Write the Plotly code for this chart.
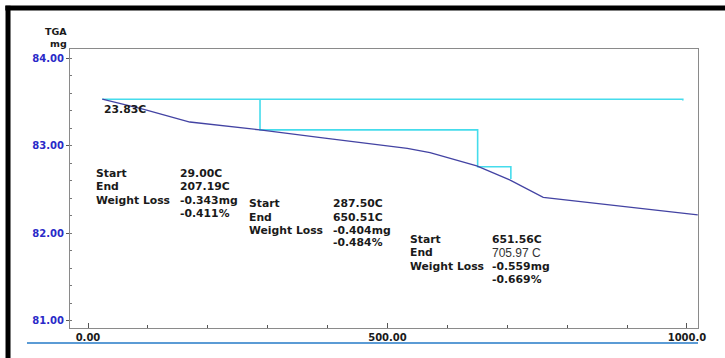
import plotly.graph_objects as go

# TGA curve (temperature in C, weight in mg)
temp = [23.83, 91.8, 170, 287, 392, 487, 533, 571, 649, 704, 760, 1018]
weight = [83.53, 83.418, 83.27, 83.18, 83.09, 83.01, 82.97, 82.92, 82.77, 82.61, 82.41, 82.21]

# baseline (cyan) and step construction lines
base_t = [23.83, 993, 993]
base_w = [83.53, 83.53, 83.515]
step_t = [287.19, 287.19, 650.51, 650.51, 705.97, 705.97]
step_w = [83.53, 83.18, 83.18, 82.76, 82.76, 82.62]

x_tickvals = [0, 500, 1000]
x_ticktext = ["0.00", "500.00", "1000.0"]
y_tickvals = [81, 82, 83, 84]
y_ticktext = ["81.00", "82.00", "83.00", "84.00"]

# analysis blocks
block_labels = ["Start", "End", "Weight Loss", ""]
block1_vals = ["29.00C", "207.19C", "-0.343mg", "-0.411%"]
block2_vals = ["287.50C", "650.51C", "-0.404mg", "-0.484%"]
block3_vals = ["651.56C", "705.97 C", "-0.559mg", "-0.669%"]
block_lx = [10, 265.4, 534.2]
block_vx = [150, 405.7, 671]
block_y = [[82.677, 82.529, 82.369, 82.221],
           [82.335, 82.186, 82.027, 81.89],
           [81.935, 81.776, 81.627, 81.468]]

FONT = "DejaVu Sans"
TXT = "#1a1a1a"

fig = go.Figure()
fig.add_trace(go.Scatter(x=base_t, y=base_w, mode="lines",
                         line=dict(color="#45dcec", width=1.6), hoverinfo="skip"))
fig.add_trace(go.Scatter(x=step_t, y=step_w, mode="lines",
                         line=dict(color="#45dcec", width=1.6), hoverinfo="skip"))
fig.add_trace(go.Scatter(x=temp, y=weight, mode="lines",
                         line=dict(color="#4343a3", width=1.3), hoverinfo="skip"))

annotations = []
for bi, vals in enumerate([block1_vals, block2_vals, block3_vals]):
    for ri in range(4):
        if block_labels[ri]:
            annotations.append(dict(x=block_lx[bi], y=block_y[bi][ri], xref="x", yref="y",
                                    text="<b>%s</b>" % block_labels[ri], showarrow=False,
                                    xanchor="left", yanchor="middle",
                                    font=dict(family=FONT, size=10.8, color=TXT)))
        v = vals[ri]
        if v == "705.97 C":
            txt = v
            fnt = dict(family="Liberation Sans", size=12, color="#333")
        else:
            txt = "<b>%s</b>" % v
            fnt = dict(family=FONT, size=10.8, color=TXT)
        annotations.append(dict(x=block_vx[bi], y=block_y[bi][ri], xref="x", yref="y",
                                text=txt, showarrow=False, xanchor="left", yanchor="middle",
                                font=fnt))

annotations.append(dict(x=23.4, y=83.418, xref="x", yref="y", text="<b>23.83C</b>",
                        showarrow=False, xanchor="left", yanchor="middle",
                        font=dict(family=FONT, size=10.8, color=TXT)))
annotations.append(dict(x=-0.002, y=1.061, xref="paper", yref="paper", text="<b>TGA</b>",
                        showarrow=False, xanchor="right", yanchor="middle",
                        font=dict(family=FONT, size=9.5, color=TXT)))
annotations.append(dict(x=-0.002, y=1.021, xref="paper", yref="paper", text="<b>mg</b>",
                        showarrow=False, xanchor="right", yanchor="middle",
                        font=dict(family=FONT, size=9.5, color=TXT)))

shapes = [
    # blue rule below the axis
    dict(type="line", xref="paper", yref="paper", x0=-0.0685, x1=1.0, y0=-0.0538, y1=-0.0538,
         line=dict(color="#5b9bd5", width=2)),
    # black outer frame (top and left)
    dict(type="line", xref="paper", yref="paper", x0=-0.103, x1=1.05, y0=1.147, y1=1.147,
         line=dict(color="black", width=5)),
    dict(type="line", xref="paper", yref="paper", x0=-0.0987, x1=-0.0987, y0=1.155, y1=-0.12,
         line=dict(color="black", width=5)),
]

fig.update_layout(
    width=725, height=358,
    margin=dict(l=70, r=27, t=49, b=30),
    plot_bgcolor="white", paper_bgcolor="white",
    showlegend=False,
    annotations=annotations, shapes=shapes,
    xaxis=dict(range=[-30.05, 1018.4], tickmode="array", tickvals=x_tickvals, ticktext=x_ticktext,
               ticks="inside", ticklen=5, tickcolor="#555", showgrid=False, zeroline=False,
               showline=True, linecolor="#8a8a8a", linewidth=1, mirror=True,
               tickfont=dict(family=FONT, size=10, color=TXT),
               minor=dict(tickmode="linear", tick0=0, dtick=100, ticks="inside",
                          ticklen=3, tickcolor="#555")),
    yaxis=dict(range=[80.92, 84.103], tickmode="array", tickvals=y_tickvals, ticktext=y_ticktext,
               ticks="outside", ticklen=3, tickcolor="#555", showgrid=False, zeroline=False,
               showline=True, linecolor="#8a8a8a", linewidth=1, mirror=True,
               tickfont=dict(family=FONT, size=10, color="#2a2ac8"),
               minor=dict(tickmode="linear", tick0=0, dtick=0.2, ticks="inside",
                          ticklen=2, tickcolor="#777")),
)
fig.update_xaxes(tickfont_weight="bold")
fig.update_yaxes(tickfont_weight="bold")

fig.write_html("out.html", config={"displayModeBar": False},
               post_script="document.body.style.margin='0';document.body.style.overflow='hidden';")
